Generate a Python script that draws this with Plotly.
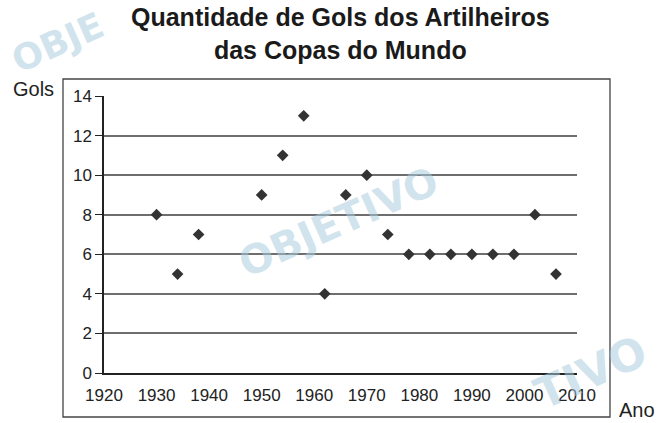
import plotly.graph_objects as go

# Artilheiros das Copas do Mundo: ano da Copa e gols do artilheiro
anos = [1930, 1934, 1938, 1950, 1954, 1958, 1962, 1966, 1970,
        1974, 1978, 1982, 1986, 1990, 1994, 1998, 2002, 2006]
gols = [8, 5, 7, 9, 11, 13, 4, 9, 10, 7, 6, 6, 6, 6, 6, 6, 8, 5]

x_ticks = [1920, 1930, 1940, 1950, 1960, 1970, 1980, 1990, 2000, 2010]
y_ticks = [0, 2, 4, 6, 8, 10, 12, 14]

W, H = 659, 423
L, R, T, B = 104, 577, 96, 373  # plot area in pixels


def px_x(p):
    return (p - L) / (R - L)


def px_y(p):
    return (B - p) / (B - T)


TICK_FONT = dict(family="Liberation Sans, Arial", size=17, color="#222")
LABEL_FONT = dict(family="Liberation Sans, Arial", size=20, color="#222")
TITLE_FONT = dict(family="Liberation Sans, Arial", size=25, color="#1a1a1a",
                  weight="bold")
WM = "rgba(170, 205, 222, 0.55)"

fig = go.Figure()
fig.add_trace(go.Scatter(
    x=anos, y=gols, mode="markers",
    marker=dict(symbol="diamond", size=9, color="#333333", line=dict(width=0)),
    cliponaxis=False, showlegend=False,
))

fig.update_layout(
    width=W, height=H,
    margin=dict(l=L, r=W - R, t=T, b=H - B, pad=0),
    paper_bgcolor="white", plot_bgcolor="white",
    xaxis=dict(
        range=[1920, 2010], tickvals=x_ticks, ticktext=[str(v) for v in x_ticks],
        showgrid=False, zeroline=False, showline=True, linecolor="#222",
        linewidth=1.5, ticks="", tickfont=TICK_FONT, ticklabelstandoff=6,
    ),
    yaxis=dict(
        range=[0, 14], tickvals=y_ticks, showgrid=True, gridcolor="#6e6e6e",
        gridwidth=1.5, zeroline=False, showline=True, linecolor="#222",
        linewidth=1.5, ticks="outside", ticklen=7, tickcolor="#222",
        tickwidth=1.2, tickfont=TICK_FONT,
    ),
)

# faint watermark marks (drawn first so the chart texts sit on top)
for txt, cx, cy, size in [("OBJE", 58, 43, 36),
                          ("OBJETIVO", 338, 222, 40),
                          ("TIVO", 590, 372, 44)]:
    fig.add_annotation(text=f"<b>{txt}</b>", xref="paper", yref="paper",
                       x=px_x(cx), y=px_y(cy), showarrow=False, textangle=-24,
                       font=dict(family="DejaVu Sans, Liberation Sans", size=size,
                                 color=WM),
                       xanchor="center", yanchor="middle")

# two-line centred title
fig.add_annotation(text="Quantidade de Gols dos Artilheiros<br>das Copas do Mundo",
                   xref="paper", yref="paper", x=px_x(340), y=px_y(33),
                   showarrow=False, font=TITLE_FONT, align="center",
                   xanchor="center", yanchor="middle")

# outer frame around the chart
fig.add_shape(type="rect", xref="paper", yref="paper",
              x0=px_x(63), x1=px_x(610), y0=px_y(417), y1=px_y(79),
              line=dict(color="#444", width=1.3), layer="below")

# axis titles
fig.add_annotation(text="Gols", xref="paper", yref="paper",
                   x=px_x(33), y=px_y(89), showarrow=False, font=LABEL_FONT,
                   xanchor="center", yanchor="middle")
fig.add_annotation(text="Ano", xref="paper", yref="paper",
                   x=px_x(637), y=px_y(410), showarrow=False, font=LABEL_FONT,
                   xanchor="center", yanchor="middle")

fig.write_html("out.html")
